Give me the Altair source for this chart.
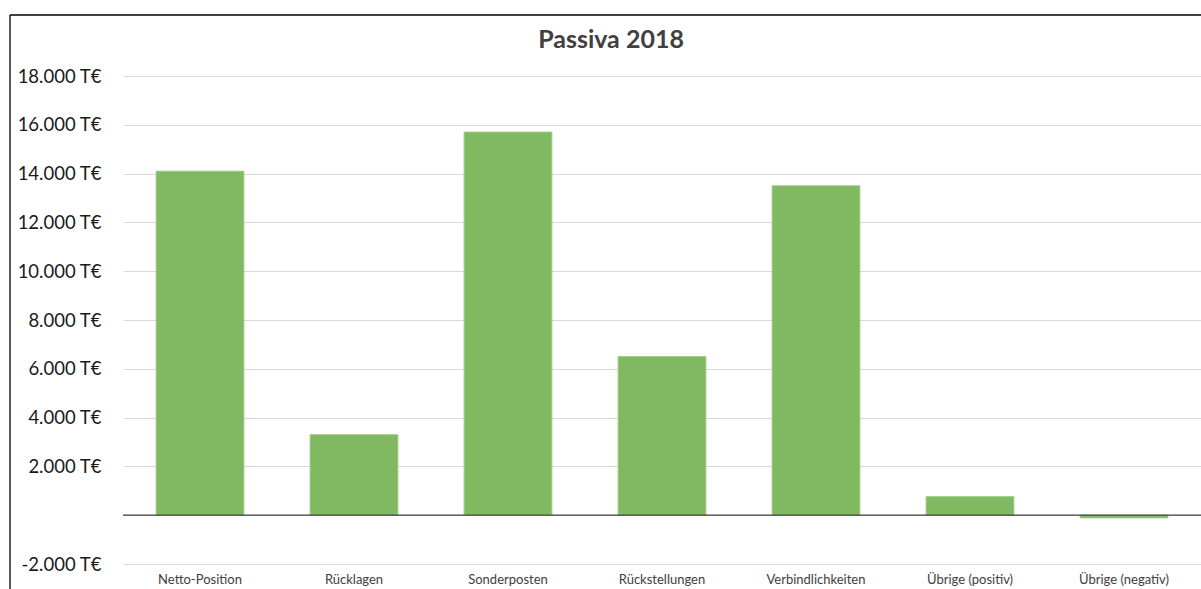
import altair as alt
import pandas as pd

categories = ["Netto-Position", "Rücklagen", "Sonderposten", "Rückstellungen",
              "Verbindlichkeiten", "Übrige (positiv)", "Übrige (negativ)"]
values = [14100, 3300, 15700, 6500, 13500, 760, -110]
y_ticks = [-2000, 0, 2000, 4000, 6000, 8000, 10000, 12000, 14000, 16000, 18000]
title_text = "Passiva 2018"

df = pd.DataFrame({"Kategorie": categories, "Wert": values})

W, H = 1078, 488
FONT = "Lato"

label_expr = ("datum.value == 0 ? '' : (datum.value < 0 ? '-' : '') + "
              "replace(format(abs(datum.value), ',.0f'), ',', '.') + ' T€'")

bars = alt.Chart(df).mark_bar(color="#80B962", stroke="#9ccc82", strokeWidth=1).encode(
    x=alt.X("Kategorie:N", sort=categories, title=None,
            scale=alt.Scale(paddingInner=0.43, paddingOuter=0.215),
            axis=alt.Axis(orient="bottom", domain=False, ticks=False, labelAngle=0,
                          labelFont=FONT, labelFontSize=13, labelColor="#404040",
                          labelPadding=9)),
    y=alt.Y("Wert:Q", title=None,
            scale=alt.Scale(domain=[-2000, 18000], nice=False),
            axis=alt.Axis(values=y_ticks, domain=False, ticks=False,
                          labelExpr=label_expr, labelFont=FONT, labelFontSize=18.5,
                          labelColor="#1a1a1a", labelPadding=22,
                          gridColor="#d9d9d9", gridWidth=1)),
)

zero = alt.Chart(pd.DataFrame({"z": [0]})).mark_rule(color="#404040", strokeWidth=1.2).encode(
    y=alt.Y("z:Q", scale=alt.Scale(domain=[-2000, 18000], nice=False))
)

frame_left = alt.Chart(pd.DataFrame({"t": [title_text]})).mark_rule(
    color="#000000", strokeWidth=1.3, clip=False
).encode(
    x=alt.value(-113), y=alt.value(-61), y2=alt.value(H + 40),
)
frame_top = alt.Chart(pd.DataFrame({"t": [title_text]})).mark_rule(
    color="#000000", strokeWidth=1.3, clip=False
).encode(
    x=alt.value(-113), x2=alt.value(W + 40), y=alt.value(-61),
)

title = alt.Chart(pd.DataFrame({"t": [title_text]})).mark_text(
    font=FONT, fontSize=25, fontWeight="bold", color="#404040",
    align="center", baseline="middle"
).encode(
    text="t:N", x=alt.value(611 - 123), y=alt.value(40 - 76)
)

chart = alt.layer(frame_left, frame_top, bars, zero, title).properties(
    width=W, height=H,
    autosize=alt.AutoSizeParams(type="none"),
    padding={"left": 123, "top": 76, "right": 0, "bottom": 25},
    background="#ffffff",
).configure_view(stroke=None)

chart.save("out.html", embed_options={"renderer": "svg", "actions": False})
